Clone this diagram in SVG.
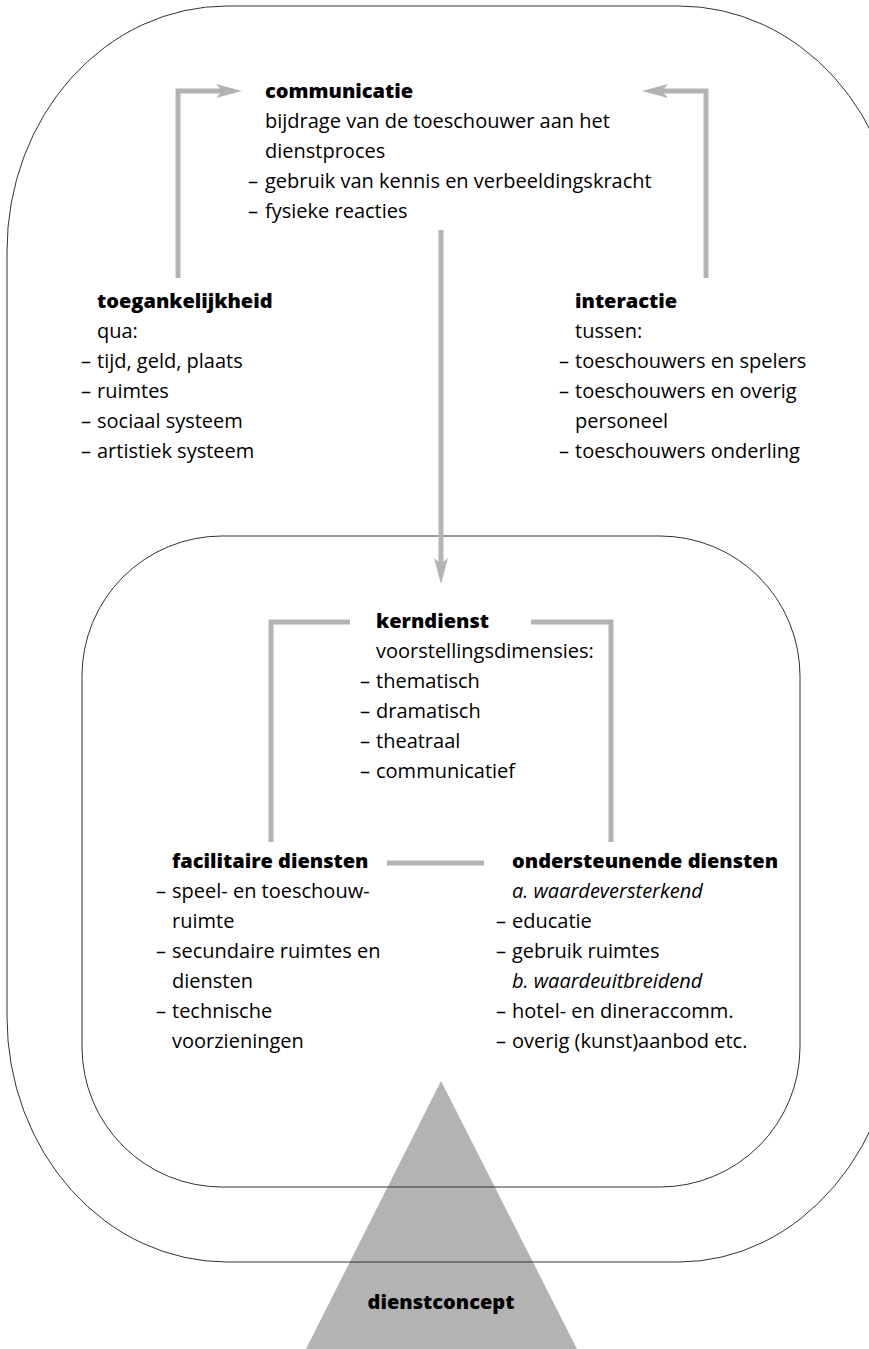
<svg xmlns="http://www.w3.org/2000/svg" width="869" height="1349" viewBox="0 0 869 1349">
  <defs>
    <style>
      .frame { fill: none; stroke: #333333; stroke-width: 1; }
      .link { fill: none; stroke: #b3b3b3; stroke-width: 5; }
      .head { fill: #b3b3b3; }
      text { font-family: "Open Sans", "Noto Sans", "Liberation Sans", sans-serif; font-size: 20px; fill: #000000; }
      .title { font-weight: 800; }
      .ital { font-style: italic; }
    </style>
  </defs>

  <rect width="869" height="1349" fill="#ffffff"/>

  <!-- base triangle: the service concept -->
  <g id="dienstconcept">
    <polygon points="441,1081 306,1349 577,1349" fill="#b3b3b3"/>
    <text class="title" x="441" y="1309" text-anchor="middle">dienstconcept</text>
  </g>

  <!-- outer and inner rounded frames (outer one runs past the right edge) -->
  <g id="frame-outer">
    <path class="frame" d="M227,6 H679 A220,245 0 0 1 899,251 V1002 A220,260 0 0 1 679,1262 H227 A220,245 0 0 1 7,1017 V251 A220,245 0 0 1 227,6 Z"/>
  </g>
  <g id="frame-inner">
    <path class="frame" d="M222,536 H660 A140,140 0 0 1 800,676 V1047 A140,140 0 0 1 660,1187 H222 A140,140 0 0 1 82,1047 V676 A140,140 0 0 1 222,536 Z"/>
  </g>

  <!-- connectors -->
  <g id="connectors">
    <polyline class="link" points="178,278 178,91 222,91"/>
    <polygon class="head" points="242,91 216,84 222,91 216,98"/>
    <polyline class="link" points="706,278 706,91 662,91"/>
    <polygon class="head" points="642,91 668,84 662,91 668,98"/>
    <line class="link" x1="441" y1="230" x2="441" y2="565"/>
    <polygon class="head" points="441,584 434,558 441,564 448,558"/>
    <polyline class="link" points="350,622 271,622 271,842"/>
    <polyline class="link" points="531,622 611,622 611,842"/>
    <line class="link" x1="387" y1="863" x2="484" y2="863"/>
  </g>

  <g id="communicatie">
    <text class="title" x="265" y="98">communicatie</text>
    <text x="265" y="128">bijdrage van de toeschouwer aan het</text>
    <text x="265" y="158">dienstproces</text>
    <text x="248" y="188">–</text><text x="265" y="188">gebruik van kennis en verbeeldingskracht</text>
    <text x="248" y="218">–</text><text x="265" y="218">fysieke reacties</text>
  </g>

  <g id="toegankelijkheid">
    <text class="title" x="97" y="308">toegankelijkheid</text>
    <text x="97" y="338">qua:</text>
    <text x="81" y="368">–</text><text x="97" y="368">tijd, geld, plaats</text>
    <text x="81" y="398">–</text><text x="97" y="398">ruimtes</text>
    <text x="81" y="428">–</text><text x="97" y="428">sociaal systeem</text>
    <text x="81" y="458">–</text><text x="97" y="458">artistiek systeem</text>
  </g>

  <g id="interactie">
    <text class="title" x="575" y="308">interactie</text>
    <text x="575" y="338">tussen:</text>
    <text x="559" y="368">–</text><text x="575" y="368">toeschouwers en spelers</text>
    <text x="559" y="398">–</text><text x="575" y="398">toeschouwers en overig</text>
    <text x="575" y="428">personeel</text>
    <text x="559" y="458">–</text><text x="575" y="458">toeschouwers onderling</text>
  </g>

  <g id="kerndienst">
    <text class="title" x="376" y="628">kerndienst</text>
    <text x="376" y="658">voorstellingsdimensies:</text>
    <text x="360" y="688">–</text><text x="376" y="688">thematisch</text>
    <text x="360" y="718">–</text><text x="376" y="718">dramatisch</text>
    <text x="360" y="748">–</text><text x="376" y="748">theatraal</text>
    <text x="360" y="778">–</text><text x="376" y="778">communicatief</text>
  </g>

  <g id="facilitaire-diensten">
    <text class="title" x="172" y="868">facilitaire diensten</text>
    <text x="156" y="898">–</text><text x="172" y="898">speel- en toeschouw-</text>
    <text x="172" y="928">ruimte</text>
    <text x="156" y="958">–</text><text x="172" y="958">secundaire ruimtes en</text>
    <text x="172" y="988">diensten</text>
    <text x="156" y="1018">–</text><text x="172" y="1018">technische</text>
    <text x="172" y="1048">voorzieningen</text>
  </g>

  <g id="ondersteunende-diensten">
    <text class="title" x="512" y="868">ondersteunende diensten</text>
    <text class="ital" x="512" y="898">a. waardeversterkend</text>
    <text x="496" y="928">–</text><text x="512" y="928">educatie</text>
    <text x="496" y="958">–</text><text x="512" y="958">gebruik ruimtes</text>
    <text class="ital" x="512" y="988">b. waardeuitbreidend</text>
    <text x="496" y="1018">–</text><text x="512" y="1018">hotel- en dineraccomm.</text>
    <text x="496" y="1048">–</text><text x="512" y="1048">overig (kunst)aanbod etc.</text>
  </g>
</svg>
